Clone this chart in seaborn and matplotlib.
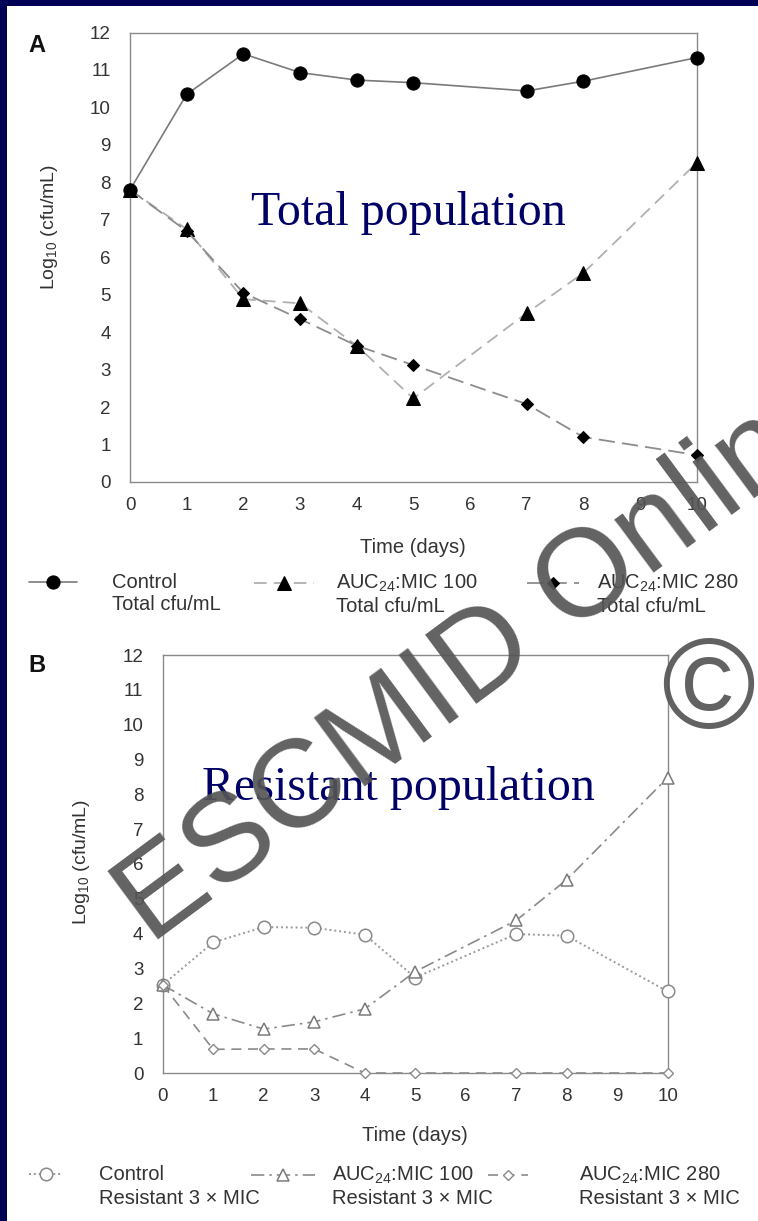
import matplotlib
matplotlib.use("Agg")
import numpy as np
import matplotlib.pyplot as plt
from matplotlib.patches import Rectangle
from matplotlib.legend_handler import HandlerLine2D
import seaborn as sns
import pandas as pd

# ---- data ----
days = [0, 1, 2, 3, 4, 5, 7, 8, 10]

# Panel A: total population (log10 cfu/mL)
total_control = [7.8, 10.35, 11.43, 10.93, 10.73, 10.66, 10.44, 10.7, 11.33]
total_auc100 = [7.8, 6.75, 4.88, 4.77, 3.64, 2.23, 4.51, 5.58, 8.52]
total_auc280 = [7.8, 6.7, 5.05, 4.35, 3.64, 3.12, 2.08, 1.2, 0.72]

# Panel B: resistant subpopulation (3 x MIC)
res_control = [2.53, 3.75, 4.19, 4.17, 3.97, 2.74, 3.99, 3.94, 2.34]
res_auc100 = [2.53, 1.7, 1.26, 1.47, 1.84, 2.91, 4.38, 5.55, 8.48]
res_auc280 = [2.53, 0.68, 0.69, 0.69, 0, 0, 0, 0, 0]

labels_a = ["Control\nTotal cfu/mL",
            "AUC$_{24}$:MIC 100\nTotal cfu/mL",
            "AUC$_{24}$:MIC 280\nTotal cfu/mL"]
labels_b = ["Control\nResistant 3 \u00d7 MIC",
            "AUC$_{24}$:MIC 100\nResistant 3 \u00d7 MIC",
            "AUC$_{24}$:MIC 280\nResistant 3 \u00d7 MIC"]
x_ticks = list(range(0, 11))
y_ticks = list(range(0, 13))

sns.set_theme(style="white")
plt.rcParams["font.family"] = ["Liberation Sans", "DejaVu Sans"]
plt.rcParams["mathtext.fontset"] = "custom"
plt.rcParams["mathtext.rm"] = "Liberation Sans"
plt.rcParams["mathtext.it"] = "Liberation Sans:italic"

W, H = 758, 1221
fig = plt.figure(figsize=(W / 100, H / 100), dpi=100)
fig.patch.set_facecolor("white")


def fx(px):
    return px / W


def fy(py):
    return 1 - py / H


navy = "#000055"
fig.patches.append(Rectangle((0, fy(6)), 1, 6 / H, transform=fig.transFigure,
                             facecolor=navy, edgecolor="none", zorder=0))
fig.patches.append(Rectangle((0, 0), 7 / W, 1, transform=fig.transFigure,
                             facecolor=navy, edgecolor="none", zorder=0))

axA = fig.add_axes([fx(130), fy(482), fx(696.7) - fx(130), fy(32.5) - fy(482)])
axB = fig.add_axes([fx(162.7), fy(1073), fx(667.7) - fx(162.7), fy(655) - fy(1073)])

spine_col = "#8a8a8a"
text_col = "#333333"
TICK_FS = 13.5
LAB_FS = 14.5
LEG_FS = 14.5


def style_axes(ax):
    ax.set_xlim(0, 10)
    ax.set_ylim(0, 12)
    ax.set_xticks(x_ticks)
    ax.set_yticks(y_ticks)
    for s in ax.spines.values():
        s.set_color(spine_col)
        s.set_linewidth(1.0)
    ax.tick_params(direction="in", length=6, width=1.0, color=spine_col,
                   labelcolor=text_col, labelsize=TICK_FS)
    ax.tick_params(axis="y", pad=14)
    ax.tick_params(axis="x", pad=11)
    ax.set_facecolor("white")


# ---- Panel A ----
dfA = pd.DataFrame({"day": days, "control": total_control,
                    "auc100": total_auc100, "auc280": total_auc280})
sns.lineplot(data=dfA, x="day", y="control", ax=axA, color="#7a7a7a", lw=1.2,
             marker="o", markersize=9.5, markerfacecolor="black",
             markeredgecolor="black", clip_on=False, label=labels_a[0], zorder=4)
sns.lineplot(data=dfA, x="day", y="auc100", ax=axA, color="#b0b0b0", lw=1.3,
             linestyle=(0, (7, 4)), marker="^", markersize=9.5,
             markerfacecolor="black", markeredgecolor="black", clip_on=False,
             label=labels_a[1], zorder=3)
sns.lineplot(data=dfA, x="day", y="auc280", ax=axA, color="#8c8c8c", lw=1.3,
             linestyle=(0, (9, 4)), marker="D", markersize=6.5,
             markerfacecolor="black", markeredgecolor="black", clip_on=False,
             label=labels_a[2], zorder=3)
style_axes(axA)
axA.set_xlabel("Time (days)", fontsize=LAB_FS, color=text_col, labelpad=17)
axA.set_ylabel("Log$_{10}$ (cfu/mL)", fontsize=14, color=text_col)
axA.yaxis.set_label_coords((60 - 130) / 566.7, (482 - 227) / 449.5)
axA.get_legend().remove()

# ---- Panel B ----
dfB = pd.DataFrame({"day": days, "control": res_control,
                    "auc100": res_auc100, "auc280": res_auc280})
sns.lineplot(data=dfB, x="day", y="control", ax=axB, color="#9a9a9a", lw=1.4,
             linestyle=(0, (1, 1.5)), marker="o", markersize=9,
             markerfacecolor="white", markeredgecolor="#8a8a8a",
             markeredgewidth=1.1, clip_on=False, label=labels_b[0], zorder=3)
sns.lineplot(data=dfB, x="day", y="auc100", ax=axB, color="#8a8a8a", lw=1.2,
             linestyle=(0, (8, 3, 1.5, 3)), marker="^", markersize=9,
             markerfacecolor="white", markeredgecolor="#7a7a7a",
             markeredgewidth=1.1, clip_on=False, label=labels_b[1], zorder=3)
sns.lineplot(data=dfB, x="day", y="auc280", ax=axB, color="#8a8a8a", lw=1.2,
             linestyle=(0, (6, 4)), marker="D", markersize=5.5,
             markerfacecolor="white", markeredgecolor="#8a8a8a",
             markeredgewidth=1.0, clip_on=False, label=labels_b[2], zorder=4)
style_axes(axB)
axB.set_xlabel("Time (days)", fontsize=LAB_FS, color=text_col, labelpad=15)
axB.set_ylabel("Log$_{10}$ (cfu/mL)", fontsize=14, color=text_col)
axB.yaxis.set_label_coords((92 - 162.7) / 505, (1073 - 862) / 418)
axB.get_legend().remove()


class TopLineHandler(HandlerLine2D):
    """Line handle raised to sit beside the first line of a two-line label."""

    def __init__(self, dy, **kw):
        super().__init__(**kw)
        self.dy = dy

    def create_artists(self, legend, orig_handle, xdescent, ydescent, width,
                       height, fontsize, trans):
        arts = super().create_artists(legend, orig_handle, xdescent, ydescent,
                                      width, height, fontsize, trans)
        for a in arts:
            a.set_ydata(np.asarray(a.get_ydata(), dtype=float) + self.dy)
        return arts


def entry_legend(handle, label, x_px, y_px, hlen, pad, ls):
    leg = fig.legend([handle], [label], loc="upper left",
                     bbox_to_anchor=(fx(x_px), fy(y_px)), frameon=False,
                     fontsize=LEG_FS, handlelength=hlen, handletextpad=pad,
                     borderaxespad=0, borderpad=0, labelcolor=text_col,
                     handler_map={handle: TopLineHandler(0.5 * ls * LEG_FS)})
    for t in leg.get_texts():
        t.set_linespacing(ls)
    return leg


# ---- legends below each panel ----
hA, _ = axA.get_legend_handles_labels()
entry_legend(hA[0], labels_a[0], 29, 573, 2.4, 1.7, 1.2)
entry_legend(hA[1], labels_a[1], 254, 573, 3.0, 1.05, 1.15)
entry_legend(hA[2], labels_a[2], 527, 573, 2.6, 0.9, 1.15)
hB, _ = axB.get_legend_handles_labels()
entry_legend(hB[0], labels_b[0], 29, 1165, 1.7, 1.8, 1.3)
entry_legend(hB[1], labels_b[1], 251, 1165, 3.2, 0.8, 1.2)
entry_legend(hB[2], labels_b[2], 488, 1165, 2.0, 2.5, 1.2)

# ---- panel letters and captions ----
fig.text(fx(37), fy(45), "A", fontsize=17, fontweight="bold", color="#111111",
         ha="center", va="center")
fig.text(fx(37), fy(665), "B", fontsize=17, fontweight="bold", color="#111111",
         ha="center", va="center")
fig.text(fx(408), fy(213), "Total population", fontsize=34.5, color="#000066",
         family=["Liberation Serif"], ha="center", va="center", zorder=10)
fig.text(fx(398), fy(788), "Resistant population", fontsize=34.5, color="#000066",
         family=["Liberation Serif"], ha="center", va="center", zorder=10)

# ---- watermark ----
fig.text(fx(150), fy(945), "ESCMID Online", fontsize=90, color="#555555",
         alpha=0.92, rotation=36.5, rotation_mode="anchor", ha="left",
         va="baseline", zorder=20)
fig.text(fx(708), fy(695), "\u00a9", fontsize=92, color="#555555", alpha=0.92,
         ha="center", va="center", zorder=20)

fig.savefig("out.png", dpi=100, facecolor="white")
